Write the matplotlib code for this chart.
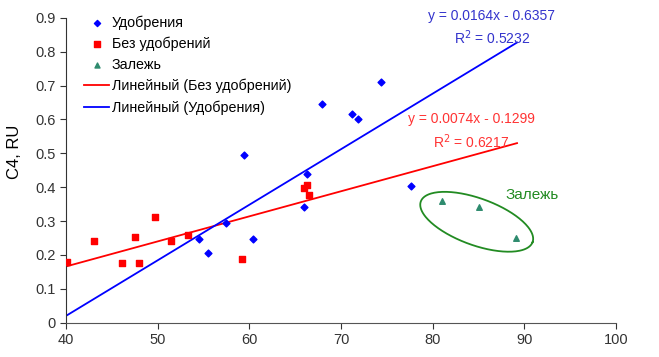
import matplotlib
matplotlib.use('Agg')
import matplotlib.pyplot as plt
import numpy as np

# Удобрения
fert_x = [59.4, 67.9, 74.4, 71.2, 71.8, 66.3, 54.5, 55.5, 57.4, 60.4, 66.0, 77.6]
fert_y = [0.495, 0.647, 0.711, 0.616, 0.602, 0.439, 0.248, 0.206, 0.295, 0.248, 0.343, 0.403]
# Без удобрений
nofert_x = [40.1, 43.1, 46.1, 47.5, 48.0, 49.7, 51.4, 53.3, 59.2, 66.0, 66.3, 66.5]
nofert_y = [0.179, 0.240, 0.176, 0.254, 0.176, 0.311, 0.240, 0.259, 0.187, 0.399, 0.406, 0.378]
# Залежь
fallow_x = [81.0, 85.0, 89.1]
fallow_y = [0.360, 0.343, 0.250]

# trend line coefficients (from the chart labels)
fert_fit = (0.0164, -0.6357, 0.5232)
nofert_fit = (0.0074, -0.1299, 0.6217)
trend_range = (40, 89.2)

xticks = [40, 50, 60, 70, 80, 90, 100]
yticks = [0, 0.1, 0.2, 0.3, 0.4, 0.5, 0.6, 0.7, 0.8, 0.9]
ytick_labels = ['0', '0.1', '0.2', '0.3', '0.4', '0.5', '0.6', '0.7', '0.8', '0.9']

plt.rcParams['font.family'] = ['Liberation Sans', 'DejaVu Sans']

fig = plt.figure(figsize=(6.59, 3.57), dpi=100)
ax = fig.add_axes([0.1002, 0.096, 0.8346, 0.854])

ax.scatter(fert_x, fert_y, marker='D', s=12, color='#0000ff', label='Удобрения', zorder=3)
ax.scatter(nofert_x, nofert_y, marker='s', s=18, color='#ff0000', label='Без удобрений', zorder=3)
ax.scatter(fallow_x, fallow_y, marker='^', s=16, color='#2e8b6e', label='Залежь', zorder=3)

xs = np.array(trend_range)
ax.plot(xs, nofert_fit[0] * xs + nofert_fit[1], color='#ff0000', lw=1.3,
        label='Линейный (Без удобрений)', zorder=2)
ax.plot(xs, fert_fit[0] * xs + fert_fit[1], color='#0000ff', lw=1.3,
        label='Линейный (Удобрения)', zorder=2)

# equation labels
ax.text(86.4, 0.906, 'y = %.4fx - %.4f' % (fert_fit[0], -fert_fit[1]), color='#3333cc',
        fontsize=10, ha='center', va='center')
ax.text(86.5, 0.841, 'R$^2$ = %.4f' % fert_fit[2], color='#3333cc',
        fontsize=10, ha='center', va='center')
ax.text(84.2, 0.600, 'y = %.4fx - %.4f' % (nofert_fit[0], -nofert_fit[1]), color='#ff3333',
        fontsize=10, ha='center', va='center')
ax.text(84.2, 0.534, 'R$^2$ = %.4f' % nofert_fit[2], color='#ff3333',
        fontsize=10, ha='center', va='center')

# ellipse around Залежь (drawn in pixel-proportional units)
px_x = 10 / 91.7   # data units per pixel, x
px_y = 0.1 / 33.9  # data units per pixel, y
t = np.linspace(0, 2 * np.pi, 200)
a, b, ang = 59.5, 23.4, np.deg2rad(-20)
ex = a * np.cos(t) * np.cos(ang) - b * np.sin(t) * np.sin(ang)
ey = a * np.cos(t) * np.sin(ang) + b * np.sin(t) * np.cos(ang)
ax.plot(84.8 + ex * px_x, 0.298 + ey * px_y, color='#228b22', lw=1.3)
ax.text(90.8, 0.377, 'Залежь', color='#228b22', fontsize=11, ha='center', va='center')

ax.set_xlim(40, 100)
ax.set_ylim(0, 0.9)
ax.set_xticks(xticks)
ax.set_yticks(yticks)
ax.set_yticklabels(ytick_labels)
ax.tick_params(labelsize=10.5, colors='#333333', length=4, direction='out')
ax.spines['top'].set_visible(False)
ax.spines['right'].set_visible(False)
ax.spines['left'].set_color('#333333')
ax.spines['bottom'].set_color('#555555')

ax.set_ylabel('C4, RU', fontsize=12)
ax.yaxis.set_label_coords(-0.08, 0.56)

ax.legend(loc='upper left', bbox_to_anchor=(0.01, 1.05), frameon=False, fontsize=10.3,
          handlelength=1.7, handletextpad=0.2, labelspacing=0.48, markerscale=0.9)

plt.savefig('out.png', dpi=100)
